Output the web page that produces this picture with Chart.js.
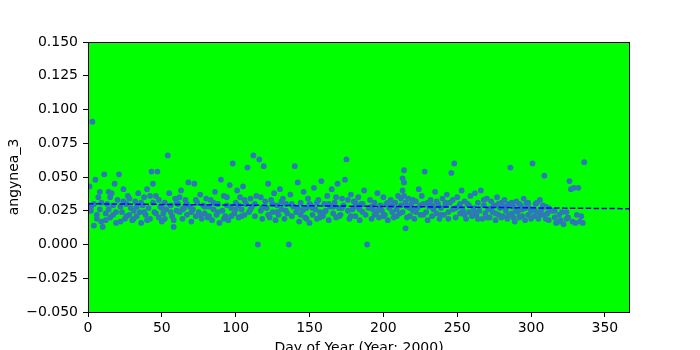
<!DOCTYPE html>
<html>
<head>
<meta charset="utf-8">
<script src="https://cdn.jsdelivr.net/npm/chart.js@4"></script>
<style>
  body { margin: 0; background: #fff; }
  canvas { display: block; }
</style>
</head>
<body>
<canvas id="myChart" width="700" height="350"></canvas>
<script>
// angynea_3, one value per day of year (day 1 .. 336), null = no reading
let dailyValues = [
    0.043, 0.028, 0.091, 0.014, 0.048, 0.019, 0.035, 0.026, 0.017, 0.013,
    0.052, 0.023, 0.030, 0.039, 0.020, 0.038, 0.022, 0.045, 0.016, 0.033,
    0.052, 0.028, 0.024, 0.041, 0.019, 0.030, 0.036, 0.022, 0.027, 0.018,
    0.025, 0.032, 0.021, 0.038, 0.024, 0.016, 0.029, 0.035, 0.022, 0.041,
    0.027, 0.019, 0.054, 0.031, 0.024, 0.036, 0.054, 0.020, 0.028, 0.017,
    0.023, 0.031, 0.026, 0.066, 0.038, 0.029, 0.021, 0.018, 0.034, 0.025,
    0.030, 0.024, 0.040, 0.019, 0.027, 0.033, 0.022, 0.046, 0.028, 0.017,
    0.026, 0.045, 0.021, 0.031, 0.024, 0.037, 0.019, 0.029, 0.023, 0.034,
    0.020, 0.028, 0.033, 0.018, 0.026, 0.039, 0.022, 0.030, 0.016, 0.048,
    0.025, 0.036, 0.021, 0.029, 0.018, 0.044, 0.027, 0.060, 0.023, 0.031,
    0.040, 0.020, 0.035, 0.026, 0.043, 0.022, 0.030, 0.057, 0.024, 0.034,
    0.028, 0.066, 0.021, 0.036, 0.000, 0.063, 0.025, 0.019, 0.058, 0.032,
    0.027, 0.045, 0.020, 0.033, 0.024, 0.038, 0.018, 0.029, 0.022, 0.041,
    0.026, 0.034, 0.019, 0.030, 0.023, 0.000, 0.037, 0.021, 0.028, 0.058,
    0.024, 0.046, 0.017, 0.031, 0.025, 0.039, 0.020, 0.027, 0.034, 0.016,
    0.029, 0.022, 0.042, 0.026, 0.019, 0.033, 0.024, 0.047, 0.021, 0.030,
    0.025, 0.036, 0.018, 0.028, 0.041, 0.023, 0.031, 0.020, 0.045, 0.027,
    0.022, 0.034, 0.029, 0.048, 0.063, 0.025, 0.019, 0.037, 0.026, 0.032,
    0.021, 0.028, 0.035, 0.018, 0.030, 0.024, 0.040, 0.022, 0.000, 0.027,
    0.033, 0.019, 0.026, 0.031, 0.023, 0.038, 0.020, 0.029, 0.025, 0.035,
    0.022, 0.030, 0.018, 0.027, 0.033, 0.024, 0.020, 0.031, 0.026, 0.036,
    0.023, 0.029, 0.049, 0.055, 0.012, 0.028, 0.034, 0.021, 0.030, 0.025,
    0.019, 0.032, 0.027, 0.041, 0.022, 0.036, 0.030, 0.054, 0.024, 0.018,
    0.028, 0.033, 0.021, 0.026, 0.039, 0.023, 0.030, 0.019, 0.027, 0.034,
    0.022, 0.029, 0.037, 0.024, 0.031, 0.053, 0.026, 0.060, 0.020, 0.035,
    0.028, 0.023, 0.040, 0.025, 0.032, 0.019, 0.030, 0.024, 0.036, 0.021,
    0.027, 0.038, 0.022, 0.031, 0.025, 0.040, 0.019, 0.029, 0.023, 0.034,
    0.026, 0.020, 0.032, 0.024, 0.029, 0.018, 0.035, 0.022, 0.027, 0.031,
    0.021, 0.033, 0.025, 0.019, 0.030, 0.057, 0.023, 0.028, 0.017, 0.032,
    0.024, 0.020, 0.029, 0.026, 0.034, 0.018, 0.031, 0.022, 0.027, 0.025,
    0.060, 0.021, 0.030, 0.024, 0.019, 0.033, 0.026, 0.022, 0.051, 0.028,
    0.023, 0.018, null, 0.025, null, 0.020, 0.016, null, 0.022, 0.018,
    0.024, 0.015, null, 0.019, 0.020, 0.047, 0.041, 0.017, 0.042, 0.016,
    0.022, 0.042, 0.017, 0.021, 0.016, 0.061
]

// second readings on some days
let extraDays = [
    2, 4, 6, 8, 9, 12, 14, 15, 17, 19, 22, 24, 26, 28, 31, 33, 36, 38, 40, 42,
    44, 46, 48, 50, 52, 56, 58, 60, 62, 64, 67, 70, 73, 76, 79, 82, 85, 88, 92, 94,
    97, 100, 102, 104, 106, 110, 113, 117, 118, 122, 125, 128, 131, 134, 138, 142, 144, 146, 148, 150,
    152, 155, 157, 160, 163, 166, 168, 170, 172, 176, 178, 181, 184, 186, 192, 194, 197, 200, 203, 206,
    209, 212, 213, 214, 214, 213, 215, 216, 218, 220, 222, 225, 227, 230, 233, 236, 239, 242, 244, 247,
    249, 252, 255, 258, 262, 264, 268, 270, 273, 276, 278, 280, 282, 284, 285, 287, 288, 290, 292, 294,
    296, 298, 300, 302, 304, 306, 308, 310, 312, 316, 319, 324
]
let extraValues = [
    0.025, 0.030, 0.022, 0.039, 0.031, 0.018, 0.026, 0.035, 0.029, 0.024, 0.017, 0.032, 0.021, 0.034, 0.019, 0.028, 0.031, 0.024, 0.018, 0.036,
    0.045, 0.023, 0.033, 0.027, 0.019, 0.024, 0.013, 0.031, 0.035, 0.026, 0.030, 0.024, 0.033, 0.022, 0.028, 0.021, 0.031, 0.024, 0.019, 0.035,
    0.021, 0.026, 0.029, 0.021, 0.033, 0.026, 0.030, 0.035, 0.027, 0.022, 0.030, 0.024, 0.032, 0.025, 0.030, 0.027, 0.022, 0.026, 0.019, 0.030,
    0.027, 0.031, 0.020, 0.024, 0.030, 0.028, 0.035, 0.021, 0.027, 0.033, 0.021, 0.031, 0.026, 0.030, 0.028, 0.022, 0.026, 0.021, 0.031, 0.029,
    0.021, 0.034, 0.040, 0.046, 0.036, 0.024, 0.031, 0.020, 0.027, 0.033, 0.024, 0.029, 0.022, 0.031, 0.029, 0.032, 0.022, 0.031, 0.019, 0.033,
    0.027, 0.030, 0.022, 0.029, 0.024, 0.019, 0.033, 0.020, 0.027, 0.023, 0.030, 0.020, 0.028, 0.029, 0.022, 0.031, 0.020, 0.025, 0.030, 0.021,
    0.027, 0.031, 0.019, 0.026, 0.031, 0.022, 0.029, 0.019, 0.027, 0.025, 0.017, 0.024
]

// dashed trend line, read at both ends of the x range
let trendDays = [0, 367]
let trendValues = [0.0302, 0.0265]

let xTicksStep = 50
let yTicksStep = 0.025


// build the point table for the library
let points = []
dailyValues.forEach((v, i) => {
    if (v !== null) points.push({ x: i + 1, y: v })
})
extraDays.forEach((d, i) => {
    points.push({ x: d, y: extraValues[i] })
})
let trend = trendDays.map((d, i) => ({ x: d, y: trendValues[i] }))


// green plot area with a black frame
let plotFrame = {
    id: 'plotFrame',
    beforeDatasetsDraw(chart) {
        let { ctx, chartArea: a } = chart
        ctx.save()
        ctx.fillStyle = '#00ff00'
        ctx.fillRect(a.left, a.top, a.right - a.left, a.bottom - a.top)
        ctx.restore()
    },
    afterDraw(chart) {
        let { ctx, chartArea: a } = chart
        ctx.save()
        ctx.strokeStyle = '#000'
        ctx.lineWidth = 1
        ctx.strokeRect(a.left + 0.5, a.top + 0.5, a.right - a.left - 1, a.bottom - a.top)
        ctx.restore()
    }
}

let font = { family: 'DejaVu Sans', size: 14 }
let fmt = v => {
    if (Math.abs(v) < 1e-9) return '0.000'
    let s = v.toFixed(3)
    return s.replace('-', '\u2212')
}

let ctx = document.getElementById('myChart').getContext('2d')
let myChart = new Chart(ctx, {
    type: 'scatter',
    data: {
        datasets: [{
            label: 'trend',
            data: trend,
            showLine: true,
            borderColor: '#0000ff',
            borderWidth: 1.5,
            borderDash: [5.5, 2.4],
            pointRadius: 0,
            order: 0
        }, {
            label: 'angynea_3',
            data: points,
            backgroundColor: '#2e78b8',
            borderColor: '#2e78b8',
            borderWidth: 0,
            pointRadius: 2.9,
            order: 1
        }]
    },
    options: {
        responsive: false,
        animation: false,
        layout: { padding: { left: 0, right: 70, top: 42, bottom: 0 } },
        plugins: {
            legend: { display: false },
            tooltip: { enabled: false }
        },
        scales: {
            x: {
                type: 'linear',
                min: 0,
                max: 367,
                grid: { drawOnChartArea: false, tickLength: 5, color: '#000', tickWidth: 1 },
                border: { display: false },
                ticks: {
                    stepSize: xTicksStep,
                    includeBounds: false,
                    color: '#000',
                    font: font,
                    padding: 3,
                    maxRotation: 0
                },
                title: {
                    display: true,
                    text: 'Day of Year (Year: 2000)',
                    color: '#000',
                    font: { family: 'DejaVu Sans', size: 14, lineHeight: 0.6 },
                    padding: { top: 0, bottom: -3 }
                },
                afterFit: scale => { scale.height = 38 }
            },
            y: {
                min: -0.05,
                max: 0.15,
                grid: { drawOnChartArea: false, tickLength: 5, color: '#000', tickWidth: 1 },
                border: { display: false },
                ticks: {
                    stepSize: yTicksStep,
                    color: '#000',
                    font: font,
                    padding: 5,
                    callback: v => fmt(v)
                },
                title: {
                    display: true,
                    text: 'angynea_3',
                    color: '#000',
                    font: font,
                    padding: { top: 6, bottom: 0 }
                },
                afterFit: scale => { scale.width = 88 }
            }
        }
    },
    plugins: [plotFrame]
});
</script>
</body>
</html>
